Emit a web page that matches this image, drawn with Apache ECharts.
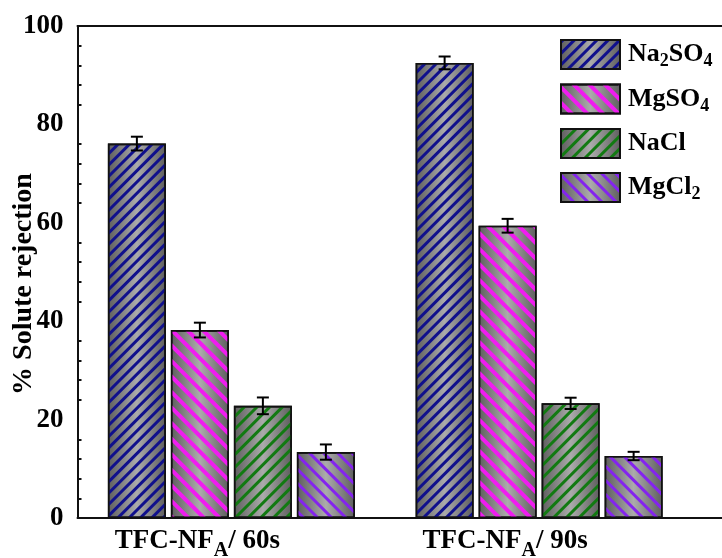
<!DOCTYPE html>
<html>
<head>
<meta charset="utf-8">
<script src="https://cdn.jsdelivr.net/npm/echarts@6/dist/echarts.min.js"></script>
<style>
  html, body { margin: 0; padding: 0; background: #fff; }
  #main { width: 722px; height: 558px; }
</style>
</head>
<body>
<div id="main"></div>
<script>
// 数据
var categories = ['TFC-NF_A/ 60s', 'TFC-NF_A/ 90s'];
var saltNames = ['Na_2SO_4', 'MgSO_4', 'NaCl', 'MgCl_2'];
var na2so4 = [76.1, 92.5];
var mgso4 = [38.2, 59.4];
var nacl = [22.8, 23.3];
var mgcl2 = [13.4, 12.6];
var na2so4Err = [1.4, 1.3];
var mgso4Err = [1.5, 1.4];
var naclErr = [1.7, 1.15];
var mgcl2Err = [1.55, 0.85];
var yTicks = [0, 20, 40, 60, 80, 100];

var FONT = '"Liberation Serif", "Times New Roman", serif';
var BAR_W = 58;      // 柱宽
var BAR_SPACE = 5;   // 柱间距
var GRID = { left: 77.5, top: 26, right: 29, bottom: 40, outerBoundsMode: 'none' };

// 下标: X_2 -> 富文本
function sub(str, a, b) {
    return '{' + a + '|' + str.replace(/_(\w)/g, '}{' + b + '|$1}{' + a + '|') + '}';
}

function grayFill() {
    return {
        type: 'linear', x: 0, y: 0, x2: 1, y2: 0,
        colorStops: [
            { offset: 0, color: '#5e5e5e' },
            { offset: 0.5, color: '#ababab' },
            { offset: 1, color: '#5e5e5e' }
        ]
    };
}

// 斜线方向: Na2SO4 与 NaCl 为 "/", MgSO4 与 MgCl2 为 "\"
var styles = [
    { color: '#10108c', rot: -Math.PI / 4, w: 2.2, gap: 4.4 },
    { color: '#f01cf0', rot: Math.PI / 4, w: 3.2, gap: 6.2 },
    { color: '#127a12', rot: -Math.PI / 4, w: 2.5, gap: 5.2 },
    { color: '#8424ee', rot: Math.PI / 4, w: 3, gap: 6.2 }
];

var values = [na2so4, mgso4, nacl, mgcl2];
var errors = [na2so4Err, mgso4Err, naclErr, mgcl2Err];

var series = [];
saltNames.forEach(function (name, i) {
    series.push({
        name: name,
        type: 'bar',
        barWidth: BAR_W,
        barGap: (BAR_SPACE / BAR_W * 100) + '%',
        data: values[i],
        itemStyle: {
            color: grayFill(),
            borderColor: '#111',
            borderWidth: 1.6,
            decal: {
                symbol: 'rect',
                color: styles[i].color,
                dashArrayX: [1, 0],
                dashArrayY: [styles[i].w, styles[i].gap],
                rotation: styles[i].rot
            }
        },
        emphasis: { disabled: true }
    });
});

// 误差棒
saltNames.forEach(function (name, i) {
    var pts = values[i].map(function (v, k) { return [k, v, errors[i][k]]; });
    series.push({
        type: 'custom',
        name: name + '_err',
        z: 5,
        encode: { x: 0, y: 1 },
        data: pts,
        renderItem: function (params, api) {
            var c = api.coord([api.value(0), api.value(1)]);
            var off = (i - 1.5) * (BAR_W + BAR_SPACE);
            var x = c[0] + off;
            var top = api.coord([api.value(0), api.value(1) + api.value(2)])[1];
            var bot = api.coord([api.value(0), api.value(1) - api.value(2)])[1];
            var cap = 6;
            var st = { stroke: '#000', lineWidth: 2 };
            return {
                type: 'group',
                children: [
                    { type: 'line', shape: { x1: x, y1: top, x2: x, y2: bot }, style: st },
                    { type: 'line', shape: { x1: x - cap, y1: top, x2: x + cap, y2: top }, style: st },
                    { type: 'line', shape: { x1: x - cap, y1: bot, x2: x + cap, y2: bot }, style: st }
                ]
            };
        }
    });
});

var chart = echarts.init(document.getElementById('main'));
var rightX = 722 - GRID.right;
var option = {
    backgroundColor: '#fff',
    animation: false,
    grid: GRID,
    legend: {
        data: saltNames,
        orient: 'vertical',
        left: 560,
        top: 39,
        padding: 0,
        icon: 'rect',
        itemWidth: 59,
        itemHeight: 29,
        itemGap: 13,
        formatter: function (n) { return sub(n, 'n', 's'); },
        textStyle: {
            padding: [0, 0, 0, 3],
            rich: {
                n: { fontFamily: FONT, fontWeight: 'bold', fontSize: 26, color: '#000' },
                s: { fontFamily: FONT, fontWeight: 'bold', fontSize: 18, color: '#000', padding: [14, 0, 0, 0] }
            }
        }
    },
    xAxis: [{
        type: 'category',
        data: categories,
        axisLine: { lineStyle: { color: '#111', width: 2 } },
        axisTick: { show: false },
        axisLabel: {
            margin: 3,
            padding: [0, 68, 0, 0],
            formatter: function (v) { return sub(v, 'n', 's'); },
            rich: {
                n: { fontFamily: FONT, fontWeight: 'bold', fontSize: 27, color: '#000' },
                s: { fontFamily: FONT, fontWeight: 'bold', fontSize: 20, color: '#000', padding: [20, 0, 0, 0] }
            }
        }
    }, {
        type: 'category',
        position: 'top',
        data: categories,
        axisLine: { lineStyle: { color: '#111', width: 2 } },
        axisTick: { show: false },
        axisLabel: { show: false }
    }],
    yAxis: {
        type: 'value',
        min: yTicks[0],
        max: yTicks[yTicks.length - 1],
        interval: 20,
        name: '% Solute rejection',
        nameLocation: 'middle',
        nameGap: 40,
        nameMoveOverlap: false,
        nameTextStyle: { fontFamily: FONT, fontWeight: 'bold', fontSize: 28, color: '#000', padding: [0, 24, 0, 0] },
        axisLine: { show: true, lineStyle: { color: '#111', width: 2 } },
        axisTick: { inside: true, length: 8, lineStyle: { color: '#111', width: 2 } },
        minorTick: { show: true, splitNumber: 5, length: 4, lineStyle: { color: '#111', width: 2 } },
        splitLine: { show: false },
        axisLabel: { margin: 14, fontFamily: FONT, fontWeight: 'bold', fontSize: 27, color: '#000' }
    },
    graphic: [
        { type: 'line', shape: { x1: rightX, y1: GRID.top, x2: 722, y2: GRID.top }, style: { stroke: '#111', lineWidth: 2 } },
        { type: 'line', shape: { x1: rightX, y1: 558 - GRID.bottom, x2: 722, y2: 558 - GRID.bottom }, style: { stroke: '#111', lineWidth: 2 } }
    ],
    series: series
};
chart.setOption(option);
</script>
</body>
</html>
